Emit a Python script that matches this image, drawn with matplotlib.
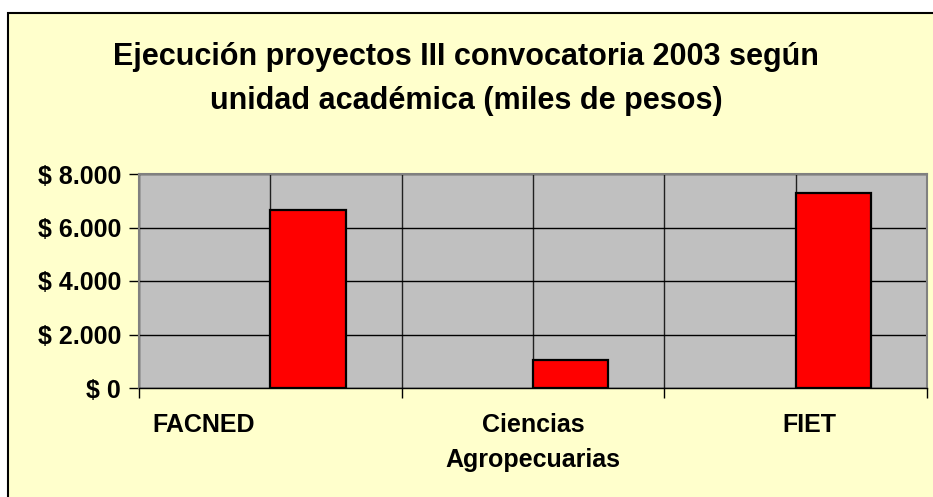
import matplotlib
matplotlib.use("Agg")
import matplotlib.pyplot as plt
from matplotlib.patches import Rectangle
from matplotlib.ticker import FuncFormatter, FixedLocator
import matplotlib.transforms as mtransforms

# ---- data ----
categories = ["FACNED", "Ciencias\nAgropecuarias", "FIET"]
serie_1 = [0, 0, 0]            # empty series (no visible bars)
ejecucion = [6650, 1050, 7300]  # miles de pesos
y_ticks = [0, 2000, 4000, 6000, 8000]
title = "Ejecución proyectos III convocatoria 2003 según\nunidad académica (miles de pesos)"

W, H = 933, 497
fig = plt.figure(figsize=(W / 100, H / 100), dpi=100)
fig.patch.set_facecolor("white")
plt.rcParams['font.family'] = ['Liberation Sans', 'DejaVu Sans']

# yellow chart area with black border
top_y = 1 - 12.5 / H
bg = Rectangle((8 / W, -0.2), 1.2, top_y + 0.2, transform=fig.transFigure,
               facecolor="#FFFFCC", edgecolor="black", linewidth=1.5, zorder=-10)
fig.patches.append(bg)

left, right, top, bottom = 139, 927, 174, 388
ax = fig.add_axes([left / W, 1 - bottom / H, (right - left) / W, (bottom - top) / H])
ax.set_zorder(5)
ax.set_facecolor("#C0C0C0")

n = len(categories)
x = list(range(n))
bw = 75 / 262
ax.bar([i - bw / 2 for i in x], serie_1, width=bw, color="#9999FF", linewidth=0, zorder=3)
ax.bar([i + bw / 2 for i in x], ejecucion, width=bw, color="#FF0000",
       edgecolor="black", linewidth=1.6, zorder=3)

ax.set_xlim(-0.5, n - 0.5)
ax.set_ylim(0, 8000)

# y axis
ax.set_yticks(y_ticks)
ax.yaxis.set_major_formatter(FuncFormatter(lambda v, p: "$ " + f"{int(v):,}".replace(",", ".")))
ax.tick_params(axis="y", direction="out", length=7, width=1, color="black", pad=6,
               labelsize=18)
for lab in ax.get_yticklabels():
    lab.set_fontweight("bold")

# x axis: major ticks at boundaries, labels at centers
ax.xaxis.set_major_locator(FixedLocator([i - 0.5 for i in range(n + 1)]))
ax.xaxis.set_minor_locator(FixedLocator(x))
ax.set_xticklabels([""] * (n + 1))
ax.set_xticklabels(categories, minor=True)
ax.tick_params(axis="x", which="major", direction="out", length=7, width=1, color="black")
ax.tick_params(axis="x", which="minor", length=0, pad=18, labelsize=18)
offsets = [-67, 0, 14]
for lab, off in zip(ax.get_xticklabels(minor=True), offsets):
    lab.set_fontweight("bold")
    lab.set_linespacing(1.6)
    lab.set_transform(lab.get_transform() + mtransforms.ScaledTranslation(off / 100, 0, fig.dpi_scale_trans))

# gridlines
ax.grid(True, which="both", axis="x", color="#202020", linewidth=1, zorder=1)
ax.grid(True, which="major", axis="y", color="black", linewidth=1, zorder=1)
ax.set_axisbelow(True)

for s in ["top", "right", "left"]:
    ax.spines[s].set_color("#808080")
    ax.spines[s].set_linewidth(1.5)
ax.spines["bottom"].set_color("black")
ax.spines["bottom"].set_linewidth(1)

fig.text(466 / W, 1 - 79 / H, title, ha="center", va="center", fontsize=22,
         fontweight="bold", linespacing=1.65)

fig.savefig("out.png", dpi=100, facecolor=fig.get_facecolor())
